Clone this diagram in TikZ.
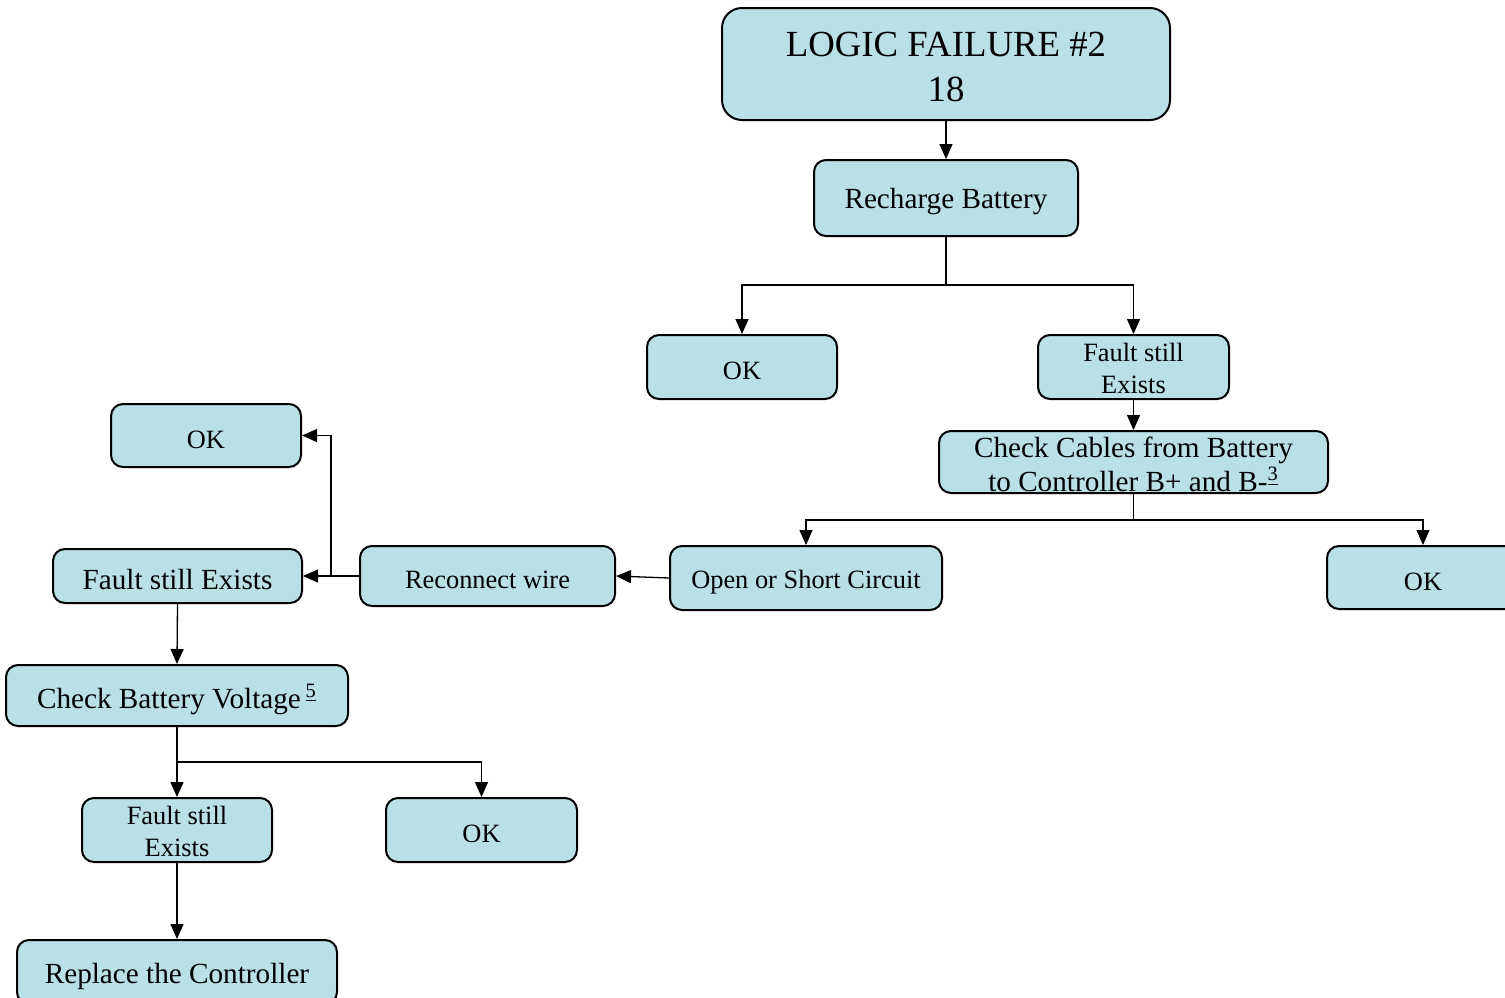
\documentclass[tikz,border=0pt]{standalone}
\usepackage{fontspec}
\setmainfont{Liberation Serif}
\newfontfamily\tms{Liberation Serif}
\usetikzlibrary{arrows.meta}
\definecolor{boxfill}{HTML}{B9E0E4}
\newcommand{\lowr}[1]{\raisebox{-2pt}[\height][\depth]{#1}}
\newcommand{\lowtab}[2]{\raisebox{#1}[\height][\depth]{\begin{tabular}{@{}c@{}}#2\end{tabular}}}
\begin{document}
\begin{tikzpicture}[x=0.5pt,y=-0.5pt,
  box/.style={draw=black, line width=1pt, fill=boxfill, rounded corners=6pt,
    inner sep=0pt, align=center, font=\tms\fontsize{14.6}{17}\selectfont},
  smallbox/.style={box, font=\tms\fontsize{13.2}{16}\selectfont},
  conn/.style={line width=0.65pt, -{Triangle[length=7.5pt,width=6.5pt]}},
  plain/.style={line width=0.65pt}]
\useasboundingbox (0,0) rectangle (1505,997);

\node[box, rounded corners=10pt, minimum width=224pt, minimum height=56pt,
  font=\tms\fontsize{18.4}{22.5}\selectfont] (title) at (946,64) {\lowtab{-2.75pt}{LOGIC FAILURE \#2\\18}};
\node[box, minimum width=132pt, minimum height=38pt] (recharge) at (946,198) {\lowr{Recharge Battery}};
\node[smallbox, minimum width=95pt, minimum height=32pt] (ok1) at (742,367) {\lowr{OK}};
\node[smallbox, minimum width=95.5pt, minimum height=32pt] (fault1) at (1133.5,367) {\lowtab{-2pt}{Fault still\\Exists}};
\node[box, inner ysep=-3pt, minimum width=194.5pt, minimum height=31pt] (cables) at (1133.5,462)
  {\lowtab{-2.75pt}{Check Cables from Battery\\to Controller B+ and B-\textsuperscript{\underline{3}}}};
\node[smallbox, minimum width=136pt, minimum height=32pt] (open) at (806,578) {\lowr{Open or Short Circuit}};
\node[smallbox, minimum width=96pt, minimum height=31.5pt] (okr) at (1423,577.5) {\lowr{OK}};
\node[smallbox, minimum width=127.5pt, minimum height=30pt] (reconnect) at (487.5,576) {\lowr{Reconnect wire}};
\node[box, minimum width=124.5pt, minimum height=27pt] (faultl) at (177.5,576) {\lowr{Fault still Exists}};
\node[smallbox, minimum width=95pt, minimum height=31.5pt] (okl) at (206,435.5) {\lowr{OK}};
\node[box, minimum width=171pt, minimum height=30.5pt] (checkbv) at (177,695.5)
  {\lowr{Check Battery Voltage\,\textsuperscript{\underline{5}}}};
\node[smallbox, minimum width=95pt, minimum height=32pt] (faultb) at (177,830) {\lowtab{-2pt}{Fault still\\Exists}};
\node[smallbox, minimum width=95.5pt, minimum height=32pt] (okb) at (481.5,830) {\lowr{OK}};
\node[box, minimum width=160pt, minimum height=32pt] (replace) at (177,972) {\lowr{Replace the Controller}};

% connectors
\draw[conn] (title.south) -- (recharge.north);
\coordinate (j1) at (946,285);
\draw[plain] (recharge.south) -- (j1);
\draw[conn] (j1) -| (ok1.north);
\draw[conn] (j1) -| (fault1.north);
\draw[conn] (fault1.south) -- (cables.north);
\coordinate (j2) at (1133.5,520);
\draw[plain] (cables.south) -- (j2);
\draw[conn] (j2) -| (open.north);
\draw[conn] (j2) -| (okr.north);
\draw[conn] (open.west) -- (reconnect.east);
\draw[conn] (reconnect.west) -- (faultl.east);
\coordinate (j3) at (331,576);
\draw[conn] (j3) |- (okl.east);
\draw[conn] (faultl.south) -- (checkbv.north);
\coordinate (j4) at (177,762);
\draw[conn] (checkbv.south) -- (faultb.north);
\draw[conn] (j4) -| (okb.north);
\draw[conn] (faultb.south) -- (replace.north);
\end{tikzpicture}
\end{document}
